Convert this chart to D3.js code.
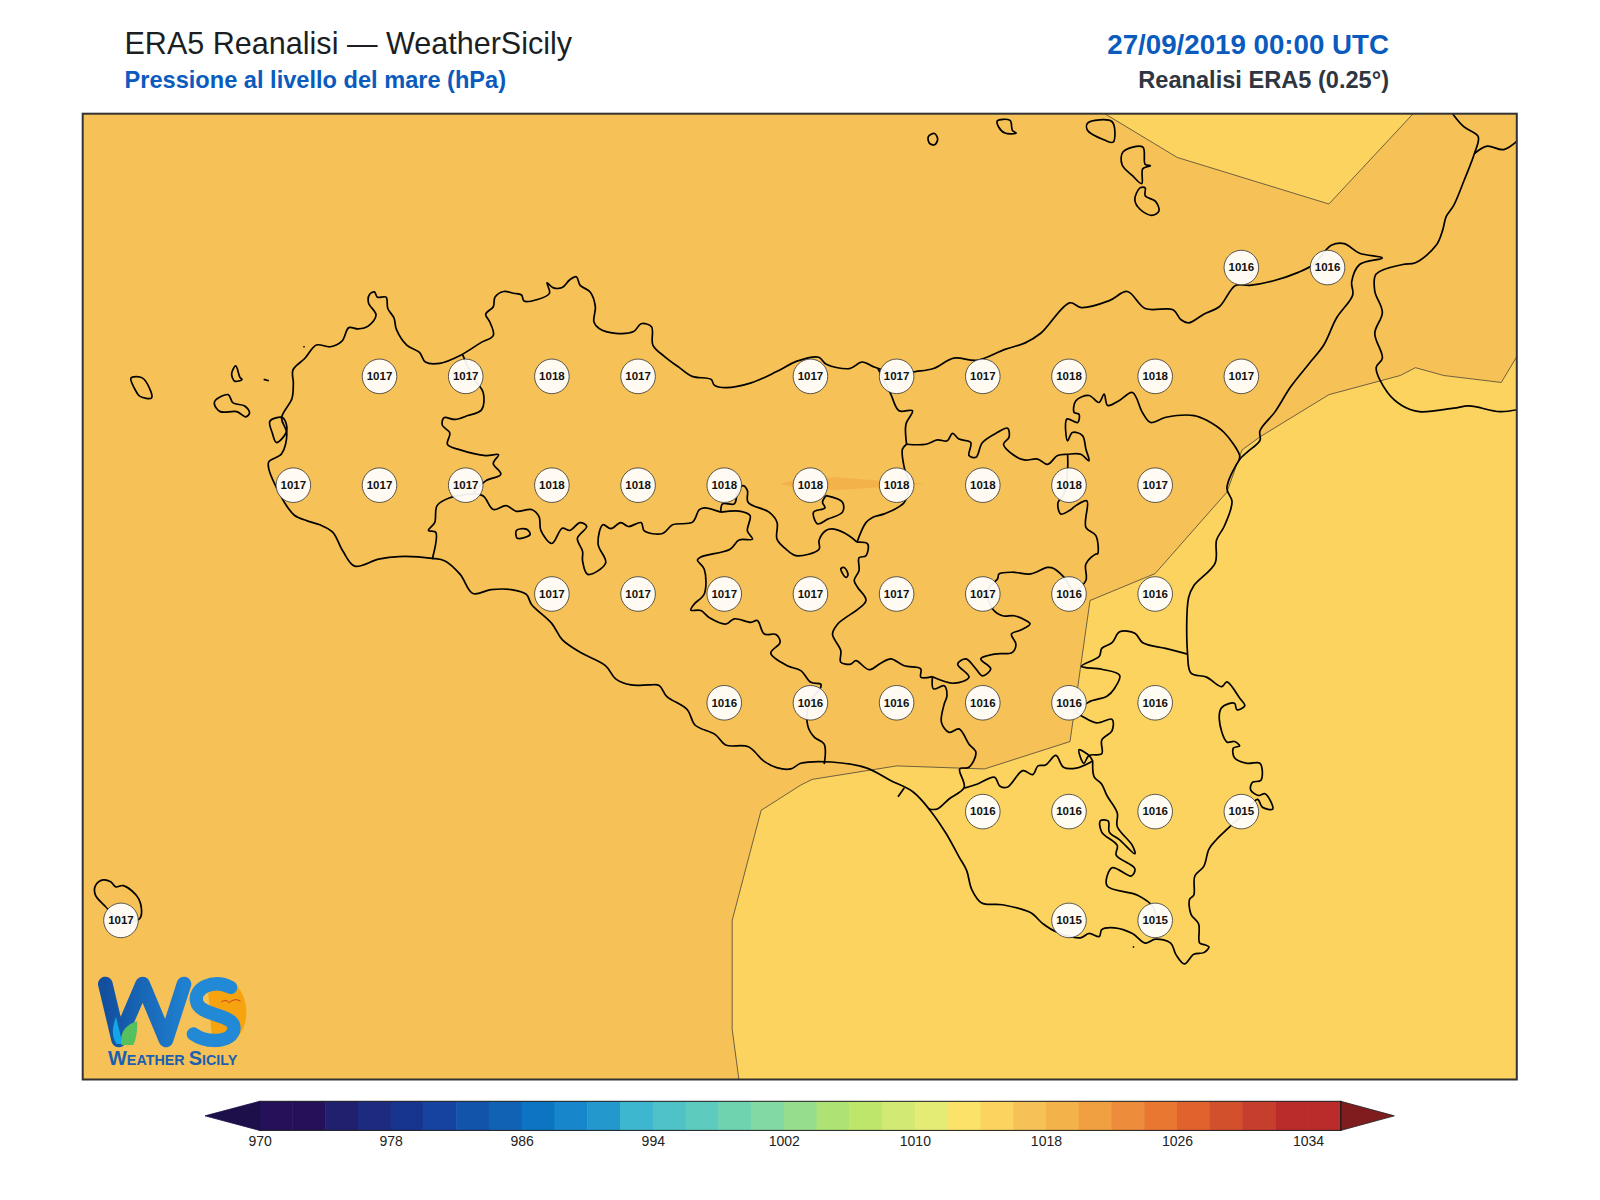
<!DOCTYPE html>
<html>
<head>
<meta charset="utf-8">
<script src="https://cdn.jsdelivr.net/npm/d3@7/dist/d3.min.js"></script>
<style>
  body { margin: 0; background: #fff; }
  text { font-family: "Liberation Sans", Arial, sans-serif; }
</style>
</head>
<body>
<svg id="chart" width="1600" height="1200"></svg>
<script>
// colour bar
var levels = [970,972,974,976,978,980,982,984,986,988,990,992,994,996,998,1000,1002,1004,1006,1008,1010,1012,1014,1016,1018,1020,1022,1024,1026,1028,1030,1032,1034,1036];
var bandColors = ["#24115a","#24115a","#20206f","#1c2a7f","#17358f","#15439f","#1354ab","#1162b5","#0c75c3","#1886cb","#2298cd","#3db6cf","#4fc2c8","#5ecbbf","#6fd3b0","#83d9a3","#96de8e","#aee274","#bde66b","#d2ea74","#e4ec76","#fbe36a","#fcd35e","#f6c156","#f4b24a","#f0a040","#ed8c3a","#e97732","#e0622c","#d2502c","#c63f2d","#ba2c2b","#ba2c2b"];
var barTicks = [970,978,986,994,1002,1010,1018,1026,1034];

// station grid, hPa
var stationLon = [15.25,15.5,
  12.75,13,13.25,13.5,14,14.25,14.5,14.75,15,15.25,
  12.5,12.75,13,13.25,13.5,13.75,14,14.25,14.5,14.75,15,
  13.25,13.5,13.75,14,14.25,14.5,14.75,15,
  13.75,14,14.25,14.5,14.75,15,
  14.5,14.75,15,15.25,
  12,14.75,15];
var stationLat = [38.25,38.25,
  38,38,38,38,38,38,38,38,38,38,
  37.75,37.75,37.75,37.75,37.75,37.75,37.75,37.75,37.75,37.75,37.75,
  37.5,37.5,37.5,37.5,37.5,37.5,37.5,37.5,
  37.25,37.25,37.25,37.25,37.25,37.25,
  37,37,37,37,
  36.75,36.75,36.75];
var stationHpa = [1016,1016,
  1017,1017,1018,1017,1017,1017,1017,1018,1018,1017,
  1017,1017,1017,1018,1018,1018,1018,1018,1018,1018,1017,
  1017,1017,1017,1017,1017,1017,1016,1016,
  1016,1016,1016,1016,1016,1016,
  1016,1016,1016,1015,
  1017,1015,1015];

// pressure bands: 1014-1016 south east and north, 1018-1020 small patch
var bandSouth = [[13.795,36.37],[13.773,36.5],[13.773,36.75],[13.857,37.003],[13.972,37.061],[14.005,37.074],[14.25,37.105],[14.505,37.098],[14.753,37.161],[14.811,37.485],[15,37.547],[15.208,37.734],[15.252,37.831],[15.304,37.861],[15.504,37.958],[15.711,38.002],[15.755,38.02],[15.837,38.002],[16.004,37.986],[16.06,38.06],[16.06,36.37]];
var bandNorth = [[14.84,38.61],[15.064,38.503],[15.504,38.396],[15.756,38.61]];
var bandPatch = [[13.912,37.753],[13.953,37.762],[14.079,37.768],[14.204,37.76],[14.332,37.753],[14.204,37.745],[14.079,37.739],[13.953,37.745]];

// coast of Sicily, clockwise from Trapani
var sicily = [[12.499,38.015],[12.533,38.041],[12.567,38.072],[12.607,38.068],[12.641,38.081],[12.661,38.112],[12.688,38.109],[12.718,38.116],[12.74,38.141],[12.718,38.169],[12.721,38.188],[12.735,38.194],[12.744,38.182],[12.769,38.182],[12.774,38.156],[12.792,38.134],[12.799,38.108],[12.829,38.072],[12.866,38.055],[12.883,38.033],[12.925,38.03],[12.984,38.048],[13.043,38.077],[13.08,38.094],[13.07,38.125],[13.058,38.143],[13.08,38.16],[13.085,38.182],[13.11,38.195],[13.139,38.191],[13.162,38.187],[13.169,38.173],[13.206,38.176],[13.243,38.191],[13.236,38.215],[13.253,38.204],[13.28,38.204],[13.302,38.222],[13.321,38.229],[13.332,38.209],[13.361,38.194],[13.376,38.16],[13.372,38.125],[13.387,38.11],[13.435,38.099],[13.487,38.103],[13.509,38.121],[13.539,38.114],[13.543,38.072],[13.576,38.046],[13.62,38.02],[13.657,38],[13.712,37.993],[13.721,37.98],[13.754,37.974],[13.828,37.985],[13.902,38.011],[13.961,38.035],
  [14.024,38.044],[14.046,38.028],[14.113,38.018],[14.15,38.033],[14.187,38.021],[14.253,38.006],[14.305,38.011],[14.357,38.018],[14.416,38.042],[14.483,38.037],[14.564,38.062],[14.623,38.077],[14.668,38.099],[14.752,38.169],[14.786,38.158],[14.867,38.174],[14.919,38.195],[14.971,38.156],[15.052,38.153],[15.075,38.13],[15.097,38.123],[15.141,38.143],[15.186,38.16],[15.233,38.209],[15.274,38.209],[15.341,38.219],[15.415,38.239],[15.459,38.257],[15.511,38.301],[15.548,38.305],[15.593,38.283],[15.659,38.272],[15.593,38.257],[15.57,38.217],[15.573,38.187],[15.526,38.134],[15.489,38.072],[15.445,38.028],[15.393,37.976],[15.348,37.919],[15.304,37.875],[15.304,37.853],[15.267,37.826],[15.245,37.809],[15.208,37.743],[15.223,37.712],[15.2,37.655],[15.178,37.624],[15.174,37.571],[15.112,37.519],[15.097,37.492],
  [15.094,37.362],[15.104,37.318],[15.149,37.309],[15.193,37.287],[15.208,37.298],[15.245,37.261],[15.26,37.243],[15.237,37.234],[15.23,37.249],[15.193,37.239],[15.186,37.212],[15.208,37.16],[15.23,37.161],[15.245,37.151],[15.227,37.146],[15.23,37.124],[15.267,37.111],[15.304,37.111],[15.307,37.072],[15.282,37.067],[15.277,37.05],[15.3,37.037],[15.319,37.041],[15.341,37.006],[15.311,37.01],[15.297,37.028],[15.254,36.993],[15.212,36.962],[15.178,36.936],[15.156,36.914],[15.141,36.874],[15.115,36.852],[15.112,36.808],[15.1,36.799],[15.104,36.764],[15.126,36.742],[15.129,36.698],[15.144,36.694],[15.156,36.689],[15.141,36.676],[15.112,36.672],[15.085,36.65],[15.06,36.672],[15.045,36.698],[15.001,36.707],[14.971,36.698],[14.934,36.72],[14.882,36.733],[14.845,36.729],[14.838,36.713],[14.808,36.72],[14.783,36.71],[14.712,36.724],[14.675,36.742],[14.638,36.768],[14.557,36.786],[14.497,36.79],[14.468,36.821],[14.453,36.865],[14.431,36.896],[14.394,36.949],[14.349,37.001],[14.298,37.045],[14.231,37.072],[14.164,37.1],[14.061,37.114],[13.972,37.111],
  [13.943,37.098],[13.902,37.101],[13.865,37.116],[13.82,37.149],[13.754,37.153],[13.724,37.177],[13.665,37.199],[13.643,37.234],[13.583,37.265],[13.561,37.29],[13.532,37.291],[13.48,37.291],[13.435,37.305],[13.406,37.335],[13.332,37.366],[13.28,37.395],[13.25,37.432],[13.191,37.476],[13.176,37.499],[13.132,37.51],[13.073,37.51],[13.021,37.501],[12.984,37.545],[12.94,37.576],[12.903,37.582],[12.806,37.586],[12.747,37.58],[12.678,37.564],[12.644,37.598],[12.614,37.642],[12.577,37.659],[12.54,37.668],[12.503,37.681],[12.473,37.712],[12.429,37.787],[12.429,37.804],[12.466,37.822],[12.481,37.87],[12.466,37.905],[12.496,37.949],[12.5,37.984]];

// Calabria
var calabriaCoast = [[15.85,38.62],[15.866,38.6],[15.896,38.573],[15.937,38.551],[15.926,38.512],[15.896,38.45],[15.866,38.393],[15.844,38.367],[15.834,38.336],[15.815,38.301],[15.755,38.261],[15.718,38.257],[15.641,38.235],[15.637,38.196],[15.659,38.147],[15.637,38.099],[15.659,38.042],[15.641,38.02],[15.674,37.963],[15.718,37.932],[15.766,37.919],[15.866,37.927],[15.911,37.932],[16,37.919],[16.06,37.925]];
var calabriaBorder = [[15.926,38.512],[15.963,38.529],[16.011,38.521],[16.06,38.548]];

// islands and lakes
var stagnone = [[12.432,37.897],[12.469,37.905],[12.481,37.875],[12.451,37.848],[12.439,37.87]];
var favignana = [[12.274,37.945],[12.311,37.958],[12.325,37.939],[12.359,37.932],[12.373,37.916],[12.362,37.907],[12.336,37.919],[12.288,37.919],[12.271,37.936]];
var levanzo = [[12.333,38.024],[12.345,37.998],[12.351,37.993],[12.33,37.989],[12.321,38.006]];
var marettimo = [[12.029,37.996],[12.063,37.996],[12.089,37.951],[12.055,37.954],[12.04,37.971]];
var formica = [[12.414,37.993],[12.429,37.99]];
var isoletta = [[12.529,38.068],[12.533,38.068]];
var correnti = [[14.935,36.689],[14.939,36.689]];
var alicudi = [[14.342,38.551],[14.36,38.558],[14.369,38.545],[14.36,38.532],[14.345,38.536]];
var filicudi = [[14.542,38.587],[14.579,38.588],[14.586,38.565],[14.597,38.559],[14.564,38.559],[14.546,38.573]];
var salina = [[14.804,38.582],[14.875,38.585],[14.878,38.538],[14.853,38.543],[14.804,38.565]];
var lipari = [[14.907,38.516],[14.964,38.527],[14.971,38.487],[14.986,38.484],[14.964,38.477],[14.961,38.443],[14.934,38.461],[14.904,38.486]];
var vulcano = [[14.956,38.433],[14.971,38.433],[14.971,38.415],[15.001,38.402],[15.011,38.38],[14.99,38.37],[14.956,38.384],[14.941,38.406]];
var pantelleria = [[11.926,36.83],[11.948,36.843],[11.97,36.839],[11.985,36.827],[12.007,36.83],[12.052,36.799],[12.055,36.755],[12,36.747],[11.955,36.782],[11.926,36.808]];
var pergusa = [[14.088,37.558],[14.098,37.561],[14.109,37.544],[14.103,37.538],[14.091,37.55]];
var arancio = [[13.147,37.646],[13.176,37.649],[13.187,37.637],[13.15,37.628]];
var closedShapes = [sicily,stagnone,favignana,levanzo,marettimo,alicudi,filicudi,salina,lipari,vulcano,pantelleria,pergusa,arancio];

// province borders
var trapaniPalermo = [[12.991,38.05],[13.021,37.998],[13.051,37.962],[13.046,37.923],[13.006,37.91],[12.969,37.901],[12.937,37.905],[12.932,37.888],[12.954,37.87],[12.947,37.844],[12.984,37.831],[13.058,37.818],[13.095,37.82],[13.08,37.8],[13.102,37.775],[13.058,37.76],[13.021,37.73]];
var trapaniAgrigento = [[13.021,37.73],[12.954,37.721],[12.917,37.703],[12.91,37.664],[12.892,37.646],[12.913,37.642],[12.903,37.58]];
var palermoAgrigento = [[13.021,37.73],[13.051,37.725],[13.08,37.694],[13.117,37.703],[13.147,37.69],[13.191,37.694],[13.213,37.677],[13.218,37.646],[13.25,37.616],[13.28,37.651],[13.302,37.646],[13.332,37.664],[13.351,37.655],[13.324,37.628],[13.339,37.598],[13.339,37.576],[13.354,37.545],[13.406,37.571],[13.384,37.615],[13.398,37.659],[13.421,37.65],[13.45,37.664],[13.472,37.655],[13.509,37.664],[13.518,37.645],[13.571,37.639],[13.6,37.659],[13.658,37.665],[13.677,37.693],[13.692,37.698],[13.74,37.688]];
var agrigentoCalta = [[13.74,37.688],[13.798,37.69],[13.825,37.68],[13.817,37.645],[13.832,37.626],[13.793,37.624],[13.767,37.603],[13.682,37.585],[13.672,37.578],[13.692,37.557],[13.692,37.5],[13.663,37.477],[13.653,37.463],[13.682,37.462],[13.706,37.446],[13.755,37.431],[13.779,37.443],[13.827,37.435],[13.846,37.439],[13.866,37.408],[13.9,37.407],[13.912,37.389],[13.885,37.364],[13.933,37.335],[13.972,37.324],[14.001,37.297],[14.03,37.293],[14.03,37.286],[13.996,37.247],[13.992,37.198],[14.011,37.171],[14.04,37.155],[14.04,37.109]];
var palermoCalta = [[13.74,37.688],[13.745,37.707],[13.779,37.707],[13.788,37.73],[13.803,37.749],[13.817,37.738],[13.819,37.711],[13.88,37.688],[13.903,37.665],[13.903,37.626],[13.929,37.603],[13.958,37.588],[14.025,37.603],[14.025,37.623],[14.045,37.646],[14.069,37.649],[14.112,37.634],[14.135,37.619]];
var palermoEnna = [[14.135,37.619],[14.161,37.664],[14.18,37.676],[14.214,37.684],[14.272,37.71],[14.286,37.753],[14.272,37.791],[14.267,37.833],[14.279,37.844]];
var palermoMessina = [[14.279,37.844],[14.277,37.89],[14.296,37.921],[14.257,37.921],[14.233,37.959],[14.196,38.018]];
var sclafani = [[14.045,37.726],[14.093,37.711],[14.093,37.688],[14.05,37.672],[14.021,37.661],[14.009,37.688],[14.042,37.698],[14.035,37.711],[14.045,37.726]];
var messinaCatania = [[14.279,37.844],[14.335,37.844],[14.368,37.854],[14.397,37.852],[14.412,37.869],[14.431,37.856],[14.465,37.848],[14.46,37.818],[14.48,37.814],[14.499,37.848],[14.542,37.871],[14.572,37.881],[14.576,37.86],[14.56,37.844],[14.586,37.821],[14.62,37.808],[14.659,37.81],[14.688,37.798],[14.717,37.818],[14.746,37.821],[14.784,37.821],[14.808,37.806],[14.799,37.833],[14.789,37.864],[14.76,37.871],[14.746,37.852],[14.744,37.902],[14.775,37.894],[14.779,37.913],[14.765,37.917],[14.77,37.944],[14.808,37.956],[14.837,37.94],[14.852,37.959],[14.862,37.933],[14.895,37.944],[14.934,37.963],[14.963,37.917],[14.987,37.894],[15.031,37.906],[15.113,37.91],[15.152,37.898],[15.2,37.871],[15.244,37.821],[15.245,37.809]];
var ennaCalta = [[14.135,37.619],[14.166,37.615],[14.161,37.588],[14.141,37.583],[14.141,37.554],[14.127,37.531],[14.137,37.515],[14.161,37.485],[14.079,37.431],[14.064,37.408],[14.088,37.37],[14.088,37.343],[14.117,37.339],[14.132,37.347],[14.17,37.326],[14.204,37.341],[14.233,37.351],[14.272,37.335],[14.32,37.328],[14.32,37.309],[14.354,37.31]];
var ennaCatania = [[14.354,37.31],[14.417,37.295],[14.46,37.309],[14.427,37.339],[14.451,37.351],[14.48,37.328],[14.499,37.312],[14.523,37.328],[14.494,37.351],[14.533,37.362],[14.586,37.366],[14.596,37.385],[14.583,37.408],[14.61,37.417],[14.637,37.431],[14.625,37.439],[14.591,37.45],[14.557,37.45],[14.528,37.466],[14.514,37.508],[14.543,37.535],[14.547,37.546],[14.586,37.55],[14.639,37.546],[14.688,37.561],[14.707,37.558],[14.736,37.538],[14.765,37.508],[14.799,37.531],[14.799,37.569],[14.828,37.592],[14.833,37.592],[14.828,37.634],[14.799,37.653],[14.802,37.714],[14.77,37.703],[14.75,37.691],[14.726,37.684],[14.718,37.71],[14.736,37.73],[14.746,37.787],[14.746,37.821]];
var caltaRagusa = [[14.354,37.31],[14.357,37.282],[14.388,37.289],[14.396,37.266],[14.388,37.247],[14.38,37.205],[14.402,37.182],[14.431,37.19],[14.46,37.155],[14.48,37.136],[14.46,37.102],[14.433,37.098],[14.446,37.056],[14.402,37.029],[14.368,37.006],[14.344,37.006]];
var gelaTick = [[14.272,37.054],[14.254,37.034]];
var catRagusa = [[14.446,37.054],[14.483,37.063],[14.534,37.079],[14.549,37.059],[14.571,37.056],[14.616,37.094],[14.645,37.085],[14.66,37.105],[14.682,37.107],[14.712,37.129],[14.734,37.102],[14.771,37.1],[14.819,37.116]];
var ragusaSiracusa = [[14.819,37.116],[14.823,37.08],[14.845,37.063],[14.86,37.037],[14.89,36.997],[14.89,36.966],[14.934,36.922],[14.941,36.903],[14.897,36.935],[14.867,36.953],[14.864,36.978],[14.841,36.979],[14.845,36.953],[14.89,36.922],[14.887,36.9],[14.941,36.869],[14.931,36.852],[14.875,36.871],[14.86,36.83],[14.949,36.808],[14.993,36.782],[15.004,36.746]];
var catSiracusa = [[15.094,37.362],[15.03,37.375],[14.964,37.388],[14.941,37.41],[14.897,37.413],[14.875,37.388],[14.845,37.375],[14.838,37.357],[14.786,37.334],[14.845,37.327],[14.897,37.313],[14.882,37.283],[14.86,37.265],[14.808,37.252],[14.771,37.23],[14.793,37.217],[14.83,37.204],[14.875,37.212],[14.875,37.186],[14.845,37.164],[14.845,37.133],[14.808,37.129],[14.793,37.111],[14.779,37.142],[14.808,37.129],[14.819,37.116]];
var openLines = [calabriaCoast,calabriaBorder,formica,isoletta,correnti,trapaniPalermo,trapaniAgrigento,palermoAgrigento,agrigentoCalta,palermoCalta,palermoEnna,palermoMessina,sclafani,messinaCatania,ennaCalta,ennaCatania,caltaRagusa,gelaTick,catRagusa,ragusaSiracusa,catSiracusa];

var svg = d3.select("#chart");
var frame = { left: 82.7, right: 1516.8, top: 113.7, bottom: 1079.5 };

var x = d3.scaleLinear().domain([11.889, 16.049]).range([frame.left, frame.right]);
var y = d3.scaleLinear().domain([36.3845, 38.6035]).range([frame.bottom, frame.top]);
var fill = d3.scaleThreshold().domain(levels.slice(1, -1)).range(bandColors);

svg.append("clipPath").attr("id", "mapclip").append("rect")
    .attr("x", frame.left).attr("y", frame.top)
    .attr("width", frame.right - frame.left).attr("height", frame.bottom - frame.top);

var map = svg.append("g").attr("clip-path", "url(#mapclip)");
var bandPath = d3.line().x(function (d) { return x(d[0]); }).y(function (d) { return y(d[1]); }).curve(d3.curveLinearClosed);
var openPath = d3.line().x(function (d) { return x(d[0]); }).y(function (d) { return y(d[1]); }).curve(d3.curveCatmullRom.alpha(0.5));
var closedPath = d3.line().x(function (d) { return x(d[0]); }).y(function (d) { return y(d[1]); }).curve(d3.curveCatmullRomClosed.alpha(0.5));

map.append("rect")
    .attr("x", frame.left).attr("y", frame.top)
    .attr("width", frame.right - frame.left).attr("height", frame.bottom - frame.top)
    .attr("fill", fill(1017));

[bandSouth, bandNorth].forEach(function (b) {
    map.append("path").attr("d", bandPath(b))
        .attr("fill", fill(1015)).attr("stroke", "#333").attr("stroke-width", 0.7);
});
map.append("path").attr("d", bandPath(bandPatch)).attr("fill", fill(1019));

map.selectAll("path.shape").data(closedShapes).enter().append("path")
    .attr("class", "shape")
    .attr("d", closedPath)
    .attr("fill", "none").attr("stroke", "#000").attr("stroke-width", 1.7).attr("stroke-linejoin", "round");
map.selectAll("path.border").data(openLines).enter().append("path")
    .attr("class", "border")
    .attr("d", openPath)
    .attr("fill", "none").attr("stroke", "#000").attr("stroke-width", 1.7).attr("stroke-linejoin", "round");

// station labels
var stations = stationHpa.map(function (v, i) { return { lon: stationLon[i], lat: stationLat[i], hpa: v }; });
var st = map.selectAll("g.station").data(stations).enter().append("g")
    .attr("class", "station")
    .attr("transform", function (d) { return "translate(" + x(d.lon) + "," + y(d.lat) + ")"; });
st.append("circle").attr("r", 17.3)
    .attr("fill", "#fff").attr("fill-opacity", 0.93)
    .attr("stroke", "#333").attr("stroke-width", 0.8);
st.append("text").attr("text-anchor", "middle").attr("dy", "0.33em")
    .attr("font-size", 11.5).attr("font-weight", "bold").attr("fill", "#111")
    .text(function (d) { return d.hpa; });

// logo
var logo = map.append("g").attr("transform", "translate(80,960) scale(0.3333)");
var logoGrad = svg.append("linearGradient").attr("id", "logoblue").attr("x1", 0).attr("x2", 1).attr("y1", 0).attr("y2", 0);
logoGrad.append("stop").attr("offset", 0).attr("stop-color", "#12509f");
logoGrad.append("stop").attr("offset", 1).attr("stop-color", "#1f7fd0");
logo.append("path")
    .attr("d", "M438,60 C482,70 500,120 499,162 C497,225 452,264 398,262 L385,100 Z")
    .attr("fill", "#f6a30f");
logo.append("path").attr("d", "M76,72 L116,240 L188,72 L258,240 L312,72")
    .attr("fill", "none").attr("stroke", "url(#logoblue)").attr("stroke-width", 44)
    .attr("stroke-linecap", "round").attr("stroke-linejoin", "round");
logo.append("path").attr("d", "M452,82 C400,55 340,85 350,125 C358,170 465,160 462,205 C458,250 380,250 340,222")
    .attr("fill", "none").attr("stroke", "#2289d6").attr("stroke-width", 40).attr("stroke-linecap", "round");
logo.append("path").attr("d", "M108,170 C98,200 92,225 110,252 L128,252 Z").attr("fill", "#12a6e8");
logo.append("path").attr("d", "M172,184 C140,192 118,215 124,255 L160,255 C170,235 172,210 172,184 Z").attr("fill", "#56c05f");
logo.append("path").attr("d", "M424,126 Q436,116 448,128 Q464,112 482,124")
    .attr("fill", "none").attr("stroke", "#c9401c").attr("stroke-width", 3);
logo.append("text").attr("x", 84).attr("y", 316)
    .attr("font-weight", "bold").attr("fill", "#1a5fb0")
    .selectAll("tspan").data([["W",60],["EATHER ",43],["S",60],["ICILY",43]]).enter().append("tspan")
    .attr("font-size", function (d) { return d[1]; }).text(function (d) { return d[0]; });

// frame
svg.append("rect")
    .attr("x", frame.left).attr("y", frame.top)
    .attr("width", frame.right - frame.left).attr("height", frame.bottom - frame.top)
    .attr("fill", "none").attr("stroke", "#333").attr("stroke-width", 2);

// titles
svg.append("text").attr("x", 124.5).attr("y", 54).attr("font-size", 30.55).attr("fill", "#1b1f24")
    .text("ERA5 Reanalisi \u2014 WeatherSicily");
svg.append("text").attr("x", 124.5).attr("y", 88).attr("font-size", 23.6).attr("font-weight", "bold").attr("fill", "#0a5bbd")
    .text("Pressione al livello del mare (hPa)");
svg.append("text").attr("x", 1389).attr("y", 54).attr("font-size", 27.7).attr("font-weight", "bold").attr("fill", "#0a5bbd")
    .attr("text-anchor", "end").text("27/09/2019 00:00 UTC");
svg.append("text").attr("x", 1389).attr("y", 88).attr("font-size", 23.6).attr("font-weight", "bold").attr("fill", "#2f3640")
    .attr("text-anchor", "end").text("Reanalisi ERA5 (0.25\u00b0)");

// colour bar
var bar = { left: 259.6, right: 1340.8, top: 1101.3, bottom: 1130.4, tipLeft: 205, tipRight: 1394.4 };
var barX = d3.scaleLinear().domain([970, 1036]).range([bar.left, bar.right]);
var barMid = (bar.top + bar.bottom) / 2;

svg.selectAll("rect.band").data(bandColors).enter().append("rect")
    .attr("class", "band")
    .attr("x", function (d, i) { return barX(levels[i]); })
    .attr("y", bar.top)
    .attr("width", function (d, i) { return barX(levels[i + 1]) - barX(levels[i]) + 0.5; })
    .attr("height", bar.bottom - bar.top)
    .attr("fill", function (d) { return d; });
svg.append("path")
    .attr("d", "M" + bar.left + "," + bar.top + "L" + bar.tipLeft + "," + barMid + "L" + bar.left + "," + bar.bottom + "Z")
    .attr("fill", "#1c0f4a").attr("stroke", "#1c0f4a").attr("stroke-width", 0.8);
svg.append("path")
    .attr("d", "M" + bar.right + "," + bar.top + "L" + bar.tipRight + "," + barMid + "L" + bar.right + "," + bar.bottom + "Z")
    .attr("fill", "#7f1c1e").attr("stroke", "#222").attr("stroke-width", 0.8);
svg.append("rect")
    .attr("x", bar.left).attr("y", bar.top)
    .attr("width", bar.right - bar.left).attr("height", bar.bottom - bar.top)
    .attr("fill", "none").attr("stroke", "#1a1a1a").attr("stroke-width", 1);

var axis = d3.axisBottom(barX).tickValues(barTicks).tickSize(0).tickPadding(6).tickFormat(d3.format("d"));
var axisG = svg.append("g").attr("transform", "translate(0," + bar.bottom + ")").call(axis);
axisG.select(".domain").remove();
axisG.selectAll("text").attr("font-size", 14).attr("fill", "#222")
    .style("font-family", "\"Liberation Sans\", Arial, sans-serif");
</script>
</body>
</html>
